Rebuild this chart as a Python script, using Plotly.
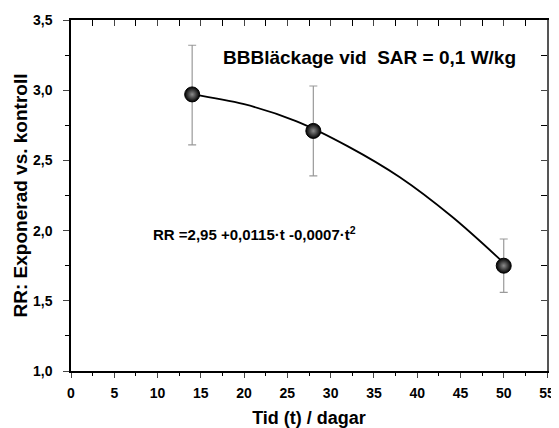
import plotly.graph_objects as go

# measured points
tid = [14, 28, 50]
rr = [2.97, 2.71, 1.75]
err_upp = [0.35, 0.32, 0.19]
err_ned = [0.36, 0.32, 0.19]

# fitted curve
fit_t = [14, 20, 26, 32, 38, 44, 50]
fit_rr = [2.97, 2.90, 2.78, 2.60, 2.38, 2.10, 1.77]

x_ticks = [0, 5, 10, 15, 20, 25, 30, 35, 40, 45, 50, 55]
y_ticks = [1.0, 1.5, 2.0, 2.5, 3.0, 3.5]
y_labels = ["1,0", "1,5", "2,0", "2,5", "3,0", "3,5"]

font = "Arial, Liberation Sans, sans-serif"

fig = go.Figure()
fig.add_trace(go.Scatter(x=fit_t, y=fit_rr, mode="lines", line_shape="spline",
                         line=dict(color="black", width=1.8), showlegend=False))
fig.add_trace(go.Scatter(
    x=tid, y=rr, mode="markers", showlegend=False,
    error_y=dict(type="data", symmetric=False, array=err_upp, arrayminus=err_ned,
                 color="#9a9a9a", thickness=1.2, width=4),
    # gradient.color is the centre colour for radial fills
    marker=dict(size=15, color="black", line=dict(color="black", width=1),
                gradient=dict(type="radial", color="#8c8c8c")),
))

fig.add_annotation(x=0.628, y=0.929, xref="paper", yref="paper", showarrow=False,
                   text="<b>BBBläckage vid&nbsp; SAR = 0,1 W/kg</b>",
                   font=dict(family=font, size=19, color="black"))
fig.add_annotation(x=0.168, y=0.393, xref="paper", yref="paper", showarrow=False,
                   xanchor="left",
                   text="<b>RR =2,95 +0,0115·t -0,0007·t<sup>2</sup></b>",
                   font=dict(family=font, size=15, color="black"))

# the page puts the figure 8px in from the top-left corner
fig.update_layout(
    width=551, height=420,
    margin=dict(l=63, r=12, t=12, b=57),
    plot_bgcolor="white", paper_bgcolor="white",
    font=dict(family=font, color="black"),
    xaxis=dict(range=[0, 55], tickvals=x_ticks, ticktext=["<b>%d</b>" % v for v in x_ticks],
               ticks="outside", ticklen=5, tickwidth=1, automargin=False,
               showgrid=False, zeroline=False, showline=True, linecolor="black", linewidth=1.5,
               tickfont=dict(size=14, family=font), ticklabelstandoff=3,
               minor=dict(dtick=2.5, ticks="outside", ticklen=3, tickcolor="black"),
               title=dict(text="<b>Tid (t) / dagar</b>", font=dict(size=18), standoff=15)),
    yaxis=dict(range=[1.0, 3.5], tickvals=y_ticks, ticktext=["<b>%s</b>" % s for s in y_labels],
               ticks="outside", ticklen=6, tickwidth=1, automargin=False,
               showgrid=False, zeroline=False, showline=True, linecolor="black", linewidth=1.5,
               tickfont=dict(size=14, family=font), ticklabelstandoff=8,
               minor=dict(dtick=0.25, ticks="outside", ticklen=4, tickcolor="black"),
               title=dict(text="<b>RR: Exponerad vs. kontroll</b>", font=dict(size=19), standoff=0)),
    xaxis2=dict(range=[0, 55], overlaying="x", side="top", tickvals=x_ticks, ticks="inside",
                ticklen=6, showticklabels=False, showgrid=False, zeroline=False, automargin=False,
                showline=True, linecolor="black", linewidth=1.5,
                minor=dict(dtick=2.5, ticks="inside", ticklen=6, tickcolor="black")),
    yaxis2=dict(range=[1.0, 3.5], overlaying="y", side="right", tickvals=y_ticks, ticks="inside",
                ticklen=6, showticklabels=False, showgrid=False, zeroline=False, automargin=False,
                showline=True, linecolor="#555555", linewidth=2,
                minor=dict(dtick=0.25, ticks="inside", ticklen=6, tickcolor="black")),
)
# invisible trace so the top/right axes are drawn
fig.add_trace(go.Scatter(x=[None], y=[None], xaxis="x2", yaxis="y2", showlegend=False))

fig.write_html("out.html")
